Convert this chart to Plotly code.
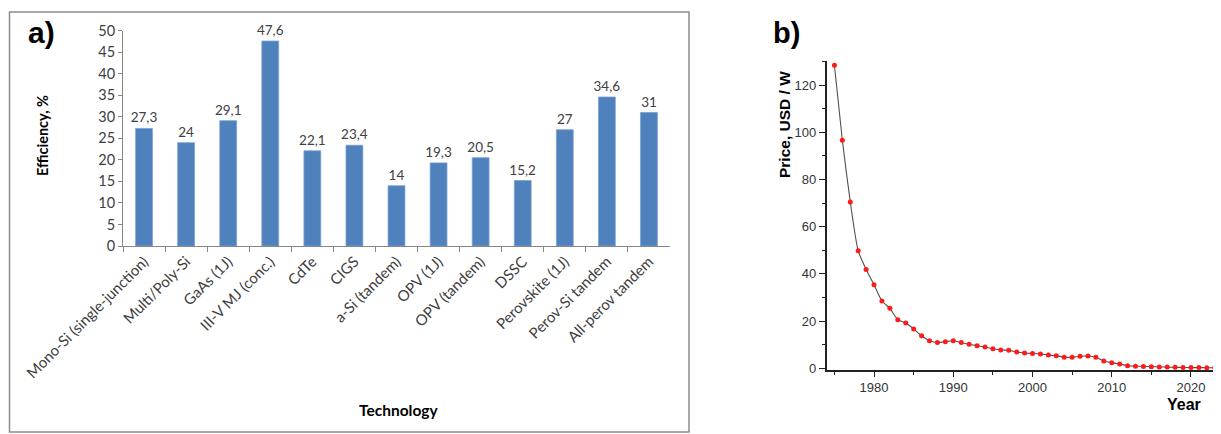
import plotly.graph_objects as go

# ---- Panel a data ----
technologies = ["Mono-Si (single-junction)", "Multi/Poly-Si", "GaAs (1J)", "III-V MJ (conc.)",
                "CdTe", "CIGS", "a-Si (tandem)", "OPV (1J)", "OPV (tandem)", "DSSC",
                "Perovskite (1J)", "Perov-Si tandem", "All-perov tandem"]
efficiency = [27.3, 24, 29.1, 47.6, 22.1, 23.4, 14, 19.3, 20.5, 15.2, 27, 34.6, 31]
eff_labels = [("%g" % v).replace(".", ",") for v in efficiency]

# ---- Panel b data ----
years = list(range(1975, 2024))
price = [128.4, 96.6, 70.5, 49.8, 41.9, 35.4, 28.5, 25.4, 20.6, 19.2,
         16.7, 13.8, 11.7, 10.9, 11.3, 11.7, 10.9, 10.2, 9.6, 9.0,
         8.3, 7.8, 7.6, 6.9, 6.5, 6.3, 6.1, 5.6, 5.3, 4.7,
         4.7, 5.1, 5.2, 4.7, 3.1, 2.4, 1.8, 1.1, 0.9, 0.8,
         0.7, 0.6, 0.5, 0.4, 0.35, 0.3, 0.3, 0.25, 0.2]

# page body has an 8px margin: size the figure so it ends at the window edge
OFF = 8
W, H = 1221 - OFF, 434 - OFF
def px(x): return (x - OFF) / W
def py(y): return 1 - (y - OFF) / H

CAL = "Lato, 'Open Sans', sans-serif"
ARIAL = "'Liberation Sans', Arial, sans-serif"

fig = go.Figure()
fig.add_trace(go.Bar(
    x=technologies, y=efficiency, text=eff_labels, textposition="outside",
    constraintext="none", textangle=0,
    textfont=dict(family=CAL, size=13.5, color="#404040"),
    marker=dict(color="#4F81BD", line=dict(color="#7aa0d0", width=0.8)),
    width=0.4, cliponaxis=False, xaxis="x", yaxis="y", hoverinfo="skip",
))
fig.add_trace(go.Scatter(
    x=years, y=price, mode="lines+markers",
    line=dict(color="#505050", width=1.1, shape="spline", smoothing=0.6),
    marker=dict(color="#ff1a1a", size=5),
    xaxis="x2", yaxis="y2", hoverinfo="skip", cliponaxis=False,
))

def ann(text, x, y, font, angle=0):
    return dict(text=text, x=px(x), y=py(y), xref="paper", yref="paper",
                xanchor="center", yanchor="middle", textangle=angle,
                showarrow=False, font=font)

fig.update_layout(
    template="none",
    width=W, height=H, margin=dict(l=0, r=0, t=0, b=0, autoexpand=False),
    paper_bgcolor="white", plot_bgcolor="white", showlegend=False,
    xaxis=dict(domain=[px(123), px(670)], anchor="y", type="category", automargin=False,
               showline=True, linecolor="#868686", linewidth=1,
               ticks="outside", ticklen=5, tickcolor="#868686", tickson="boundaries",
               tickangle=-45, tickfont=dict(family=CAL, size=15, color="#404040"),
               showgrid=False, zeroline=False),
    yaxis=dict(domain=[py(246), py(30.7)], anchor="x", range=[0, 50], dtick=5, automargin=False,
               showline=True, linecolor="#868686", linewidth=1,
               ticks="outside", ticklen=4, tickcolor="#868686",
               tickfont=dict(family=CAL, size=14.5, color="#404040"),
               showgrid=False, zeroline=False),
    xaxis2=dict(domain=[px(826.5), 1.0], anchor="y2", range=[1974, 2023.79], automargin=False,
                tick0=1980, dtick=10, showline=True, linecolor="#222", linewidth=1.5,
                ticks="outside", ticklen=5, tickcolor="#222", tickwidth=1.2,
                minor=dict(dtick=5, tick0=1975, ticks="outside", ticklen=3, tickcolor="#222"),
                tickfont=dict(family=ARIAL, size=13, color="#333"),
                showgrid=False, zeroline=False),
    yaxis2=dict(domain=[py(370), py(61)], anchor="x2", range=[-0.72, 130.2], automargin=False,
                tick0=0, dtick=20, showline=True, linecolor="#222", linewidth=1.5,
                ticks="outside", ticklen=6, tickcolor="#222", tickwidth=1.2,
                minor=dict(dtick=10, ticks="outside", ticklen=3, tickcolor="#222"),
                tickfont=dict(family=ARIAL, size=13, color="#333"),
                showgrid=False, zeroline=False),
    shapes=[dict(type="rect", xref="paper", yref="paper",
                 x0=px(9.5), x1=px(689), y0=py(432), y1=py(12),
                 line=dict(color="#8c8c8c", width=1.5))],
    annotations=[
        ann("<b>a)</b>", 41, 33, dict(family=ARIAL, size=30, color="black")),
        ann("<b>b)</b>", 786, 33, dict(family=ARIAL, size=29, color="black")),
        ann("<b>Efficiency, %</b>", 42, 136, dict(family=CAL, size=14.5, color="black"), -90),
        ann("<b>Technology</b>", 398, 410, dict(family=CAL, size=15.5, color="black")),
        ann("<b>Price, USD / W</b>", 784, 125, dict(family=ARIAL, size=15.5, color="black"), -90),
        ann("<b>Year</b>", 1184, 404, dict(family=ARIAL, size=16, color="black")),
    ],
)

fig.write_html("out.html")
